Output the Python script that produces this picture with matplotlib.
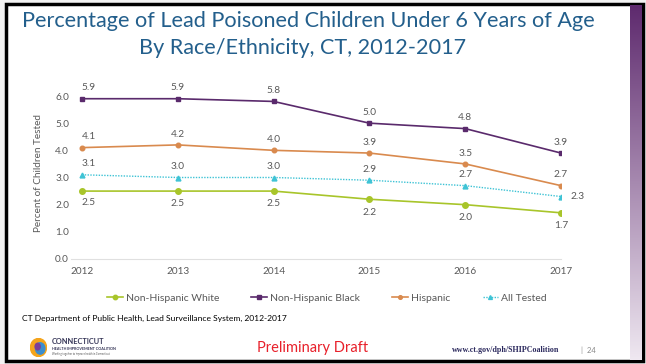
import matplotlib
matplotlib.use("Agg")
import matplotlib.pyplot as plt
from matplotlib.patches import Rectangle, Ellipse
import numpy as np

# Dane
lata = [2012, 2013, 2014, 2015, 2016, 2017]
biali = [2.5, 2.5, 2.5, 2.2, 2.0, 1.7]
czarni = [5.9, 5.9, 5.8, 5.0, 4.8, 3.9]
latynosi = [4.1, 4.2, 4.0, 3.9, 3.5, 2.7]
wszyscy = [3.1, 3.0, 3.0, 2.9, 2.7, 2.3]
etykiety_serii = ["Non-Hispanic White", "Non-Hispanic Black", "Hispanic", "All Tested"]
os_y = [0.0, 1.0, 2.0, 3.0, 4.0, 5.0, 6.0]

plt.rcParams["font.family"] = ["Lato", "DejaVu Sans"]

W, H = 646, 364
fig = plt.figure(figsize=(W / 100, H / 100), dpi=100)
fig.patch.set_facecolor("white")


def px(x, y):
    # piksele -> współrzędne figury
    return x / W, 1 - y / H


# ramka slajdu i fioletowy pasek
fig.patches.append(Rectangle((0, 0), 1, 1, transform=fig.transFigure,
                             facecolor="#f2f2f2", edgecolor="none", zorder=-3))
fig.patches.append(Rectangle(px(6, 361), 637 / W, 357 / H, transform=fig.transFigure,
                             facecolor="white", edgecolor="black", linewidth=2.5, zorder=-2))
grad = fig.add_axes([630 / W, 1 - 360 / H, 12 / W, 355 / H])
grad.imshow(np.linspace(0, 1, 256).reshape(-1, 1), aspect="auto",
            cmap=matplotlib.colors.LinearSegmentedColormap.from_list("p", ["#5e2a6e", "#efe8f1"]))
grad.axis("off")

# tytuł
kolor_tytulu = "#235f8c"
fig.text(*px(308, 21), "Percentage of Lead Poisoned Children Under 6 Years of Age",
         ha="center", va="center", fontsize=15.6, color=kolor_tytulu)
fig.text(*px(303, 48), "By Race/Ethnicity, CT, 2012-2017",
         ha="center", va="center", fontsize=15.6, color=kolor_tytulu)

# wykres
x0, x1 = 2011.88, 2017.0
px_rok = (561 - 82) / 5
lewy = 82 - (2012 - x0) * px_rok
prawy = 561
y_max = 6.3
px_jedn = (259 - 96) / 6
gora = 259 - y_max * px_jedn
ax = fig.add_axes([lewy / W, 1 - 259 / H, (prawy - lewy) / W, (259 - gora) / H])
ax.set_xlim(x0, x1)
ax.set_ylim(0, y_max)

szary = "#595959"
ax.plot(lata, biali, color="#a8c52a", marker="o", markersize=4, linewidth=1.2)
ax.plot(lata, czarni, color="#5a2a6c", marker="s", markersize=3.5, linewidth=1.2)
ax.plot(lata, latynosi, color="#d98a4e", marker="o", markersize=3.3, linewidth=1.2)
ax.plot(lata, wszyscy, color="#3ec3d5", marker="^", markersize=3.5, linewidth=1.0,
        linestyle=(0, (1, 1)))


def przesun(i):
    return 5 if i == 0 else 0


for i, r in enumerate(lata):
    ax.annotate(f"{czarni[i]:.1f}", (r, czarni[i]), xytext=(przesun(i), 6),
                textcoords="offset points", ha="center", fontsize=7.3, color=szary)
    ax.annotate(f"{latynosi[i]:.1f}", (r, latynosi[i]), xytext=(przesun(i), 6),
                textcoords="offset points", ha="center", fontsize=7.3, color=szary)
    if i < 5:
        ax.annotate(f"{wszyscy[i]:.1f}", (r, wszyscy[i]), xytext=(przesun(i), 6),
                    textcoords="offset points", ha="center", fontsize=7.3, color=szary)
    else:
        ax.annotate(f"{wszyscy[i]:.1f}", (r, wszyscy[i]), xytext=(7, 0),
                    textcoords="offset points", ha="left", va="center", fontsize=7.3,
                    color=szary)
    ax.annotate(f"{biali[i]:.1f}", (r, biali[i]), xytext=(przesun(i), -5 if i == 0 else -6),
                textcoords="offset points", ha="center", va="top", fontsize=7.3, color=szary)

for s in ["top", "right", "left"]:
    ax.spines[s].set_visible(False)
ax.spines["bottom"].set_color("#e0e0e0")
ax.spines["bottom"].set_linewidth(0.8)
ax.set_xticks(lata)
ax.set_yticks(os_y)
ax.set_yticklabels([f"{v:.1f}" for v in os_y])
ax.tick_params(length=0, labelsize=7.2, colors=szary)
ax.tick_params(axis="y", pad=1)
ax.tick_params(axis="x", pad=6)
ax.set_ylabel("Percent of Children Tested", fontsize=7.2, color=szary, labelpad=9)

# legenda
leg = fig.legend(ax.get_lines(), etykiety_serii, loc="center", bbox_to_anchor=px(327, 298),
                 ncol=4, frameon=False, fontsize=7.5, handlelength=1.5, handletextpad=0.3,
                 columnspacing=3.1, labelcolor=szary, markerscale=0.8)

# stopka
fig.text(*px(22, 318), "CT Department of Public Health, Lead Surveillance System, 2012-2017",
         fontsize=6.1, va="center", color="black")
fig.text(*px(313, 348), "Preliminary Draft", fontsize=10.5, color="#e8202a",
         ha="center", va="center")
fig.text(*px(452, 350), "www.ct.gov/dph/SHIPCoalition", fontsize=5.8, va="center",
         color="#2c2a5e", family="Liberation Serif", weight="bold")
fig.text(*px(581, 350), "|  24", fontsize=5.5, va="center", color="#8a8a8a")

# logo
logo = fig.add_axes([30 / W, 1 - 357 / H, 17 / W, 19 / H])
logo.add_patch(Ellipse((0.5, 0.5), 0.95, 0.95, color="#f4a41c"))
logo.add_patch(Ellipse((0.6, 0.45), 0.55, 0.6, color="#3b8ed0"))
logo.add_patch(Ellipse((0.45, 0.55), 0.3, 0.35, color="#7b3f98"))
logo.set_xlim(0, 1)
logo.set_ylim(0, 1)
logo.axis("off")
fig.text(*px(52, 342), "CONNECTICUT", fontsize=5.3, weight="bold", va="center",
         color="#333355")
fig.text(*px(52, 349.5), "HEALTH IMPROVEMENT COALITION", fontsize=2.7, weight="bold",
         va="center", color="#333355")
fig.text(*px(52, 354), "Working together to improve health in Connecticut", fontsize=1.9,
         va="center", color="#555555")

fig.savefig("out.png", dpi=100)
